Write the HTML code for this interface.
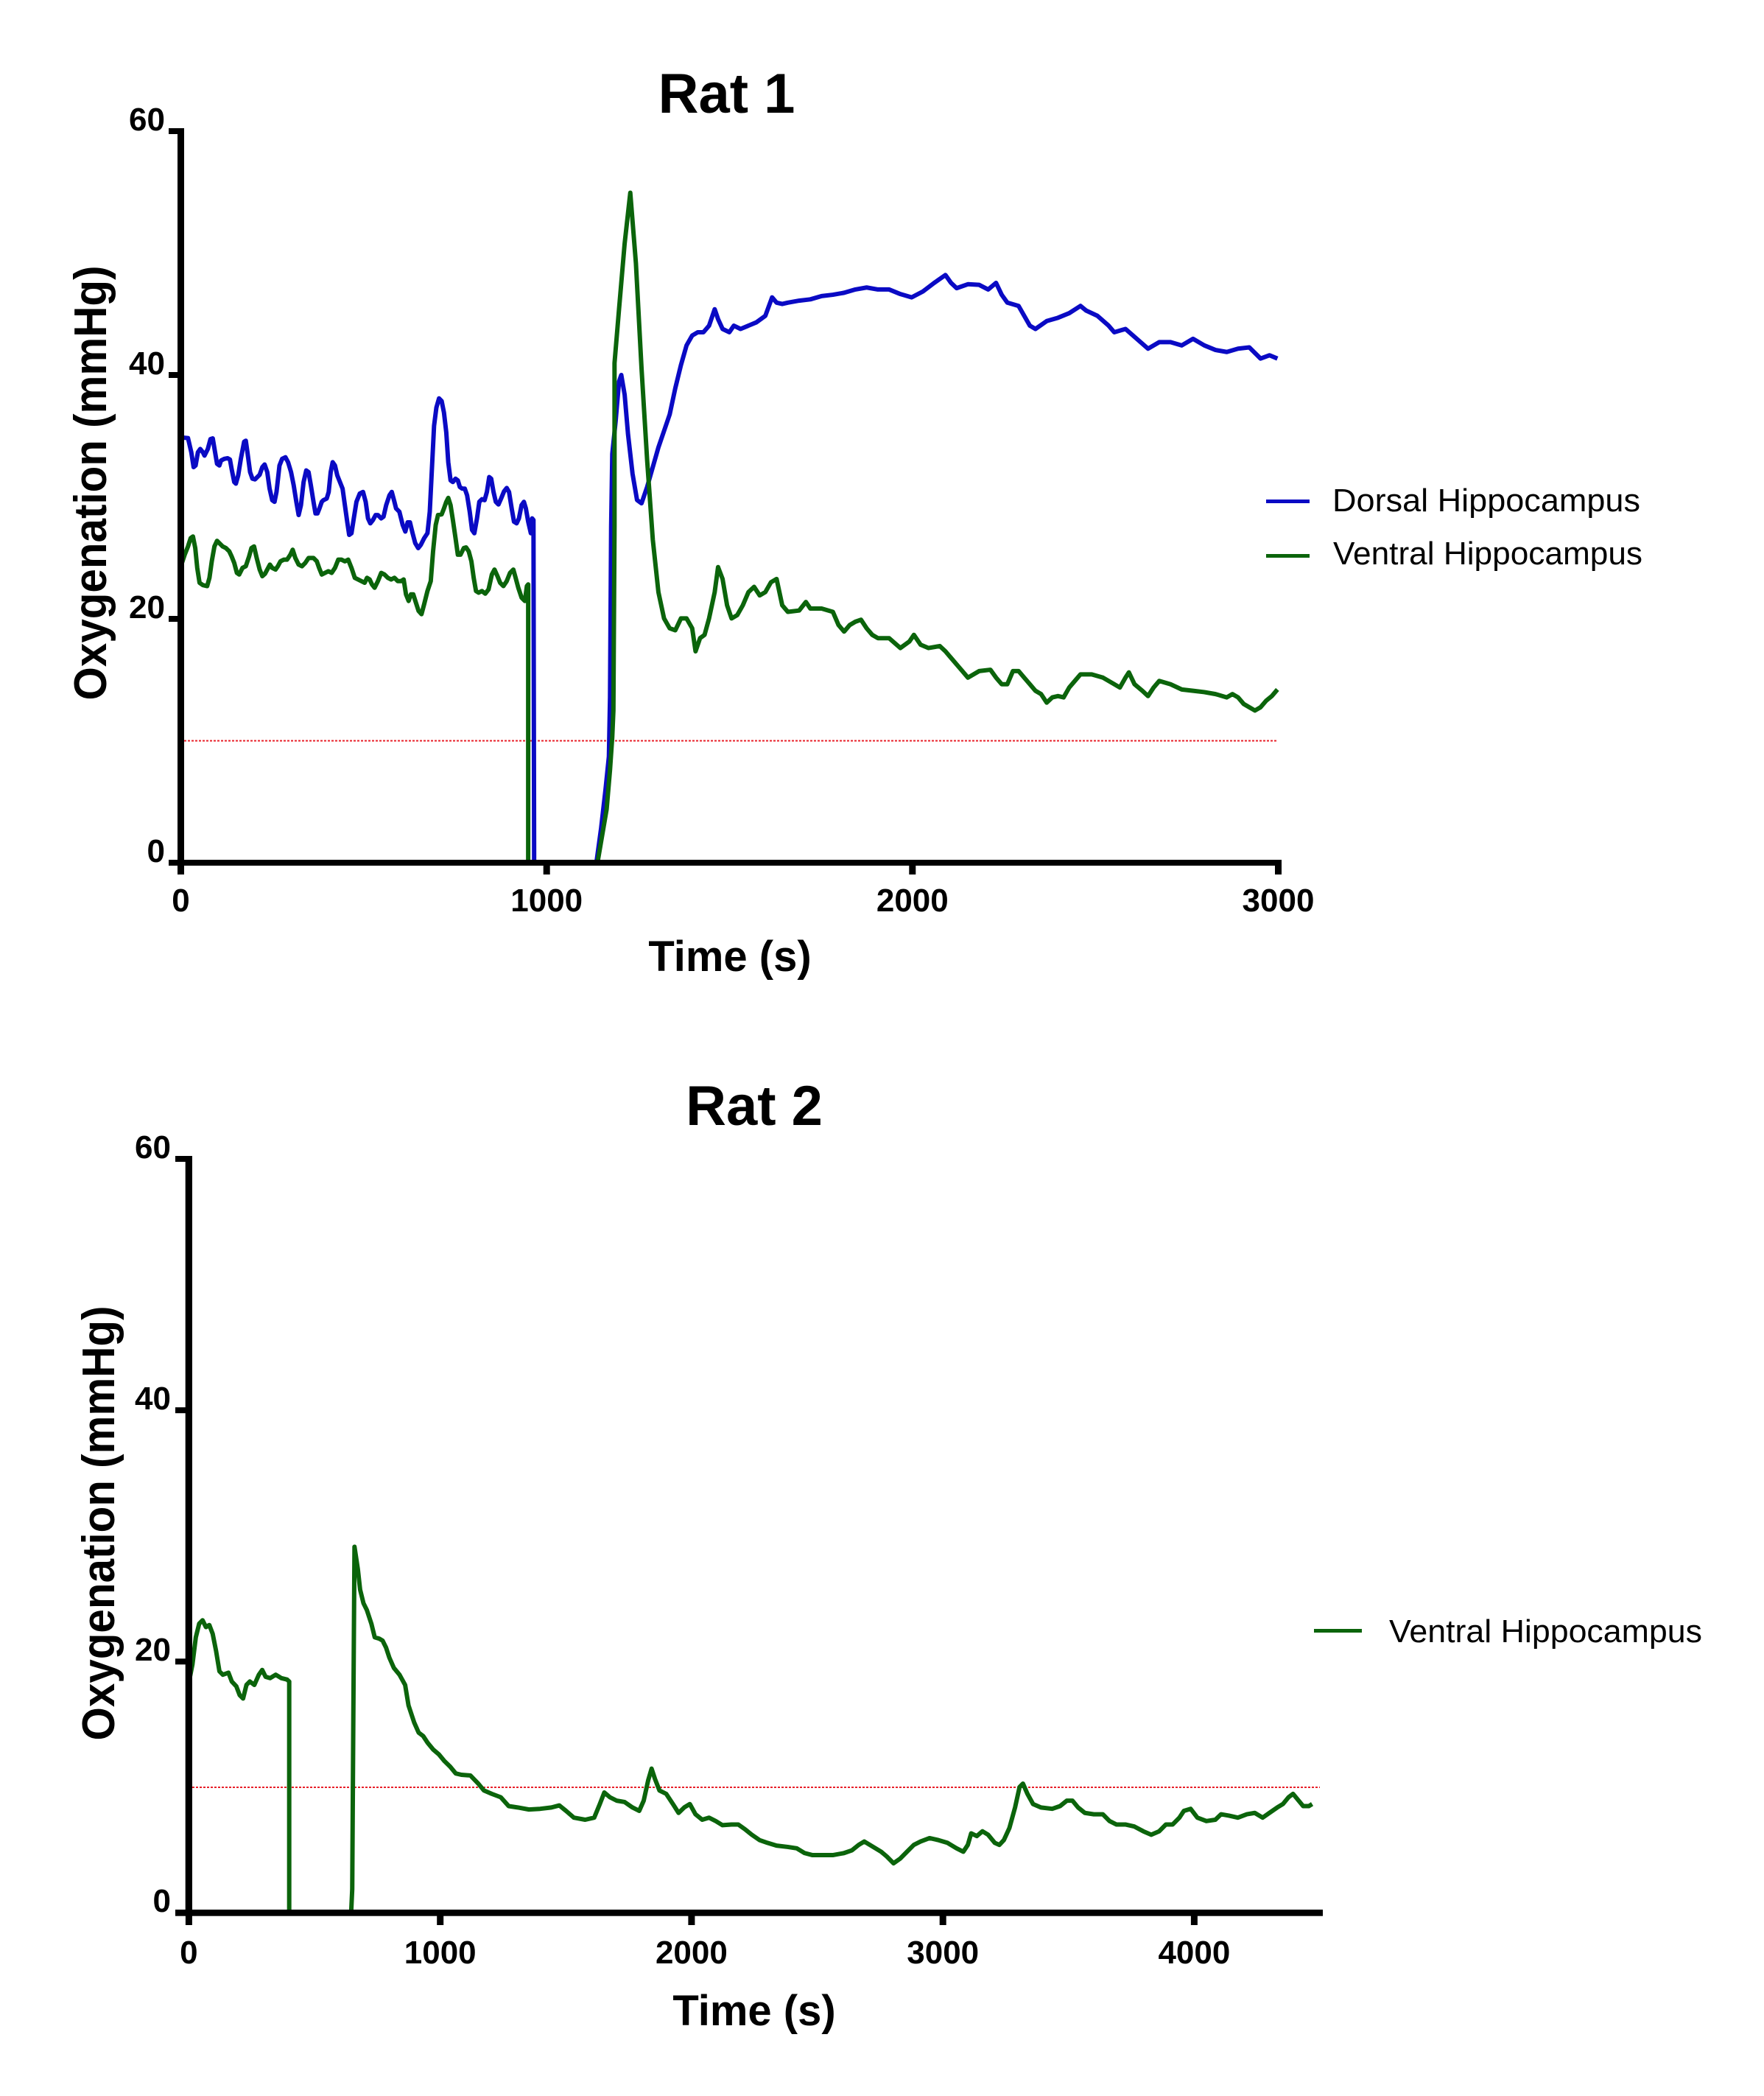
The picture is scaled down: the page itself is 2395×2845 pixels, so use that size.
<!DOCTYPE html>
<html><head><meta charset="utf-8"><style>
html,body{margin:0;padding:0;background:#fff;}
svg{display:block;}
text{font-family:"Liberation Sans",Arial,sans-serif;fill:#000;}
.b{font-weight:bold;}
.ln{fill:none;stroke-width:6;stroke-linejoin:round;stroke-linecap:butt;}
</style></head><body>
<svg width="2395" height="2845" viewBox="0 0 2395 2845" xmlns="http://www.w3.org/2000/svg">
<rect width="2395" height="2845" fill="#fff"/>

<!-- ===================== RAT 1 ===================== -->
<text class="b" x="986.5" y="153" font-size="76" text-anchor="middle">Rat 1</text>

<!-- red threshold -->
<line x1="250" y1="1005.5" x2="1735" y2="1005.5" stroke="#e8202a" stroke-width="2" stroke-dasharray="3 2"/>

<!-- blue pre-drop (zoom coords) -->
<g transform="translate(40,300) scale(0.44843)">
<path class="ln" vector-effect="non-scaling-stroke" stroke="#0a0ac4" d="M460,655 L480,657 L490,700 L497,745 L503,740 L510,700 L517,690 L525,700 L530,710 L540,690 L548,660 L555,658 L562,700 L568,735 L575,740 L580,725 L590,720 L600,718 L607,722 L612,750 L620,790 L625,795 L632,770 L640,720 L650,668 L655,665 L660,700 L668,760 L675,780 L683,782 L690,775 L697,768 L705,745 L712,737 L720,760 L727,810 L735,845 L742,850 L748,820 L757,740 L765,720 L775,715 L783,730 L792,760 L800,800 L808,850 L815,890 L822,860 L830,790 L838,755 L845,760 L852,800 L860,850 L866,885 L872,885 L878,870 L885,850 L890,845 L900,840 L906,820 L912,760 L918,730 L925,740 L932,770 L940,790 L948,810 L955,860 L962,910 L968,950 L975,945 L982,900 L990,850 L1000,825 L1010,820 L1018,850 L1025,900 L1032,915 L1040,905 L1048,890 L1055,890 L1065,900 L1072,895 L1080,860 L1090,830 L1097,820 L1105,850 L1110,870 L1120,880 L1130,920 L1138,940 L1145,912 L1152,912 L1160,945 L1168,975 L1177,990 L1185,980 L1195,960 L1205,945 L1212,880 L1218,760 L1225,620 L1232,565 L1240,537 L1248,545 L1255,580 L1262,640 L1268,730 L1275,785 L1282,790 L1290,780 L1297,785 L1303,805 L1310,810 L1318,810 L1325,830 L1333,880 L1340,935 L1347,945 L1355,900 L1362,850 L1370,842 L1378,845 L1385,820 L1392,775 L1398,780 L1405,820 L1412,850 L1420,858 L1428,840 L1437,818 L1445,808 L1452,820 L1460,870 L1467,910 L1475,915 L1482,900 L1490,860 L1497,850 L1503,870 L1510,910 L1518,945 L1522,900 L1526,905 L1528,1942"/>
<path class="ln" vector-effect="non-scaling-stroke" stroke="#0b640b" d="M460,1040 L470,1010 L480,985 L488,960 L495,955 L502,990 L508,1050 L515,1095 L525,1102 L538,1105 L545,1080 L552,1030 L560,985 L568,968 L575,975 L585,985 L595,990 L605,1000 L612,1015 L620,1035 L628,1065 L635,1070 L645,1050 L655,1045 L665,1015 L672,990 L680,985 L688,1020 L697,1055 L705,1075 L713,1068 L720,1055 L728,1040 L735,1050 L745,1055 L752,1045 L760,1030 L770,1025 L780,1025 L790,1010 L797,995 L805,1020 L815,1040 L825,1045 L835,1035 L845,1020 L860,1020 L870,1030 L877,1050 L885,1070 L895,1065 L905,1060 L915,1065 L925,1050 L935,1025 L945,1025 L955,1030 L965,1025 L975,1050 L985,1080 L995,1085 L1005,1090 L1015,1095 L1022,1080 L1030,1085 L1037,1100 L1045,1110 L1055,1090 L1065,1065 L1075,1070 L1085,1080 L1095,1085 L1105,1080 L1115,1090 L1125,1090 L1133,1085 L1140,1130 L1148,1150 L1155,1130 L1162,1130 L1170,1155 L1178,1180 L1187,1190 L1195,1160 L1205,1120 L1215,1090 L1222,1000 L1230,920 L1237,890 L1248,888 L1255,870 L1262,850 L1268,838 L1275,860 L1282,905 L1290,960 L1297,1010 L1305,1010 L1315,990 L1322,988 L1330,1000 L1338,1030 L1345,1080 L1352,1120 L1360,1125 L1370,1120 L1380,1128 L1390,1115 L1400,1070 L1408,1055 L1417,1075 L1425,1095 L1435,1105 L1445,1090 L1455,1065 L1465,1055 L1472,1080 L1480,1110 L1490,1140 L1500,1150 L1506,1105 L1510,1100 L1510,1942"/>
</g>

<!-- post-drop (zoom1 coords) -->
<g transform="scale(1.5281,0.8930)">
<path class="ln" vector-effect="non-scaling-stroke" stroke="#0a0ac4" d="M530,1310 L534,1260 L538,1200 L541,1150 L542,1060 L543,800 L544,690 L547,640 L550,580 L552,570 L555,600 L558,660 L562,720 L566,760 L570,765 L575,740 L580,710 L585,680 L590,655 L595,630 L600,590 L605,555 L610,525 L615,510 L620,505 L625,505 L630,495 L635,470 L638,485 L642,500 L648,505 L652,495 L658,500 L665,495 L672,490 L680,480 L686,452 L690,460 L695,462 L700,460 L710,457 L720,455 L730,450 L740,448 L750,445 L760,440 L770,437 L780,440 L790,440 L800,447 L810,452 L820,443 L830,430 L840,418 L845,430 L850,438 L860,432 L870,433 L878,440 L885,430 L890,448 L895,460 L905,465 L915,495 L920,500 L930,488 L940,483 L950,476 L960,465 L965,472 L975,480 L985,495 L990,505 L1000,500 L1010,515 L1020,530 L1030,520 L1040,520 L1050,525 L1060,515 L1070,525 L1080,532 L1090,535 L1100,530 L1110,528 L1120,545 L1128,540 L1135,545"/>
<path class="ln" vector-effect="non-scaling-stroke" stroke="#0b640b" d="M531,1310 L535,1270 L539,1230 L542,1170 L544,1120 L545,1080 L546,800 L546,552 L550,470 L555,370 L560,293 L565,400 L570,560 L575,700 L580,820 L585,900 L590,940 L595,955 L600,958 L605,940 L610,940 L615,955 L618,990 L622,970 L626,965 L630,940 L635,900 L638,862 L642,880 L646,920 L650,940 L655,935 L660,920 L665,900 L670,892 L675,905 L680,900 L685,885 L690,880 L695,920 L700,930 L710,928 L716,915 L720,925 L730,925 L740,930 L745,950 L750,960 L755,950 L760,945 L765,942 L770,955 L775,965 L780,970 L790,970 L800,985 L808,975 L812,965 L818,980 L825,985 L835,982 L840,990 L845,1000 L850,1010 L855,1020 L860,1030 L870,1020 L880,1018 L885,1030 L890,1040 L895,1040 L900,1020 L905,1020 L910,1030 L915,1040 L920,1050 L925,1055 L930,1068 L935,1060 L940,1058 L945,1060 L950,1045 L955,1035 L960,1025 L970,1025 L980,1030 L990,1040 L995,1045 L1000,1030 L1003,1022 L1008,1040 L1015,1050 L1020,1058 L1025,1045 L1030,1035 L1040,1040 L1050,1048 L1060,1050 L1070,1052 L1080,1055 L1090,1060 L1095,1055 L1100,1060 L1105,1070 L1110,1075 L1115,1080 L1120,1075 L1125,1065 L1130,1058 L1135,1048"/>
</g>

<!-- axes rat1 -->
<rect x="241" y="174" width="9" height="1001" fill="#000"/>
<rect x="229" y="1167" width="1511" height="8" fill="#000"/>
<rect x="229" y="174" width="13" height="8" fill="#000"/>
<rect x="229" y="505" width="13" height="8" fill="#000"/>
<rect x="229" y="836" width="13" height="8" fill="#000"/>
<rect x="241" y="1174" width="9" height="13" fill="#000"/>
<rect x="737.7" y="1174" width="9" height="13" fill="#000"/>
<rect x="1234.3" y="1174" width="9" height="13" fill="#000"/>
<rect x="1731" y="1174" width="9" height="13" fill="#000"/>

<g class="b" font-size="44" text-anchor="end">
<text x="224" y="177">60</text>
<text x="224" y="508">40</text>
<text x="224" y="839">20</text>
<text x="224" y="1170">0</text>
</g>
<g class="b" font-size="44" text-anchor="middle">
<text x="245.5" y="1237">0</text>
<text x="742.2" y="1237">1000</text>
<text x="1238.8" y="1237">2000</text>
<text x="1735.5" y="1237">3000</text>
</g>
<text class="b" x="991" y="1318" font-size="58" text-anchor="middle">Time (s)</text>
<text class="b" transform="translate(144,655.5) rotate(-90)" font-size="62" text-anchor="middle" textLength="590" lengthAdjust="spacingAndGlyphs">Oxygenation (mmHg)</text>

<!-- legend rat1 -->
<rect x="1719" y="678" width="59" height="5" fill="#0a0ac4"/>
<rect x="1719" y="752" width="59" height="5" fill="#0b640b"/>
<text x="1809" y="694" font-size="44" textLength="418" lengthAdjust="spacingAndGlyphs">Dorsal Hippocampus</text>
<text x="1810" y="766" font-size="44" textLength="420" lengthAdjust="spacingAndGlyphs">Ventral Hippocampus</text>

<!-- ===================== RAT 2 ===================== -->
<text class="b" x="1024" y="1527" font-size="76" text-anchor="middle">Rat 2</text>

<line x1="261" y1="2426" x2="1792" y2="2426" stroke="#e8202a" stroke-width="2" stroke-dasharray="3 2"/>

<g transform="translate(0,1400) scale(1.5279,0.9240)">
<path class="ln" vector-effect="non-scaling-stroke" stroke="#0b640b" d="M168,955 L171,930 L174,890 L177,870 L180,865 L183,875 L186,872 L189,885 L192,910 L195,940 L198,945 L203,942 L206,955 L210,962 L213,975 L216,980 L219,960 L222,955 L226,960 L230,945 L233,938 L236,948 L240,950 L245,945 L250,950 L255,952 L257,955 L257,1296 M312,1296 L313,1260 L314,1000 L315,757 L318,790 L320,820 L323,840 L326,850 L330,870 L333,890 L337,892 L340,895 L343,905 L346,920 L350,935 L355,945 L360,960 L363,990 L368,1015 L372,1030 L376,1035 L380,1045 L385,1055 L390,1062 L395,1072 L400,1080 L405,1090 L410,1092 L418,1093 L425,1105 L430,1115 L437,1120 L445,1125 L452,1138 L460,1140 L470,1143 L480,1142 L490,1140 L497,1137 L503,1145 L510,1155 L520,1158 L528,1155 L533,1135 L537,1118 L542,1125 L548,1130 L555,1132 L562,1140 L568,1145 L572,1130 L576,1100 L579,1083 L582,1098 L586,1115 L592,1120 L598,1135 L603,1148 L608,1140 L613,1135 L618,1150 L624,1158 L630,1155 L636,1160 L642,1166 L650,1165 L656,1165 L662,1172 L668,1180 L675,1188 L682,1192 L690,1196 L700,1198 L708,1200 L715,1207 L722,1210 L730,1210 L740,1210 L750,1207 L757,1203 L763,1195 L768,1190 L773,1195 L778,1200 L783,1205 L788,1212 L794,1222 L800,1215 L806,1205 L812,1195 L818,1190 L826,1185 L834,1188 L842,1192 L850,1200 L856,1205 L860,1195 L863,1178 L868,1182 L873,1175 L878,1180 L884,1192 L888,1195 L892,1188 L897,1170 L902,1140 L906,1110 L909,1105 L913,1120 L918,1135 L925,1140 L935,1142 L942,1138 L948,1130 L953,1130 L958,1140 L964,1148 L972,1150 L980,1150 L986,1160 L992,1165 L1000,1165 L1008,1168 L1016,1175 L1023,1180 L1030,1175 L1036,1165 L1042,1165 L1048,1155 L1052,1145 L1058,1142 L1064,1155 L1072,1160 L1080,1158 L1085,1150 L1092,1152 L1100,1155 L1108,1150 L1115,1148 L1122,1155 L1128,1148 L1135,1140 L1140,1135 L1145,1125 L1149,1120 L1153,1128 L1158,1138 L1163,1138 L1166,1135"/>
</g>

<!-- axes rat2 -->
<rect x="251.7" y="1569" width="9.3" height="1031.7" fill="#000"/>
<rect x="238" y="2592" width="1558" height="8.7" fill="#000"/>
<rect x="238" y="1569" width="14" height="8" fill="#000"/>
<rect x="238" y="1910.2" width="14" height="8" fill="#000"/>
<rect x="238" y="2251.3" width="14" height="8" fill="#000"/>
<rect x="251.9" y="2600" width="9" height="13" fill="#000"/>
<rect x="593.2" y="2600" width="9" height="13" fill="#000"/>
<rect x="934.4" y="2600" width="9" height="13" fill="#000"/>
<rect x="1275.7" y="2600" width="9" height="13" fill="#000"/>
<rect x="1616.9" y="2600" width="9" height="13" fill="#000"/>

<g class="b" font-size="44" text-anchor="end">
<text x="232" y="1572">60</text>
<text x="232" y="1913">40</text>
<text x="232" y="2254">20</text>
<text x="232" y="2595">0</text>
</g>
<g class="b" font-size="44" text-anchor="middle">
<text x="256.4" y="2665">0</text>
<text x="597.7" y="2665">1000</text>
<text x="938.9" y="2665">2000</text>
<text x="1280.2" y="2665">3000</text>
<text x="1621.4" y="2665">4000</text>
</g>
<text class="b" x="1024" y="2749" font-size="58" text-anchor="middle">Time (s)</text>
<text class="b" transform="translate(155,2067.5) rotate(-90)" font-size="62" text-anchor="middle" textLength="590" lengthAdjust="spacingAndGlyphs">Oxygenation (mmHg)</text>

<!-- legend rat2 -->
<rect x="1784" y="2211" width="65" height="5" fill="#0b640b"/>
<text x="1886" y="2229" font-size="44" textLength="425" lengthAdjust="spacingAndGlyphs">Ventral Hippocampus</text>
</svg>
</body></html>
